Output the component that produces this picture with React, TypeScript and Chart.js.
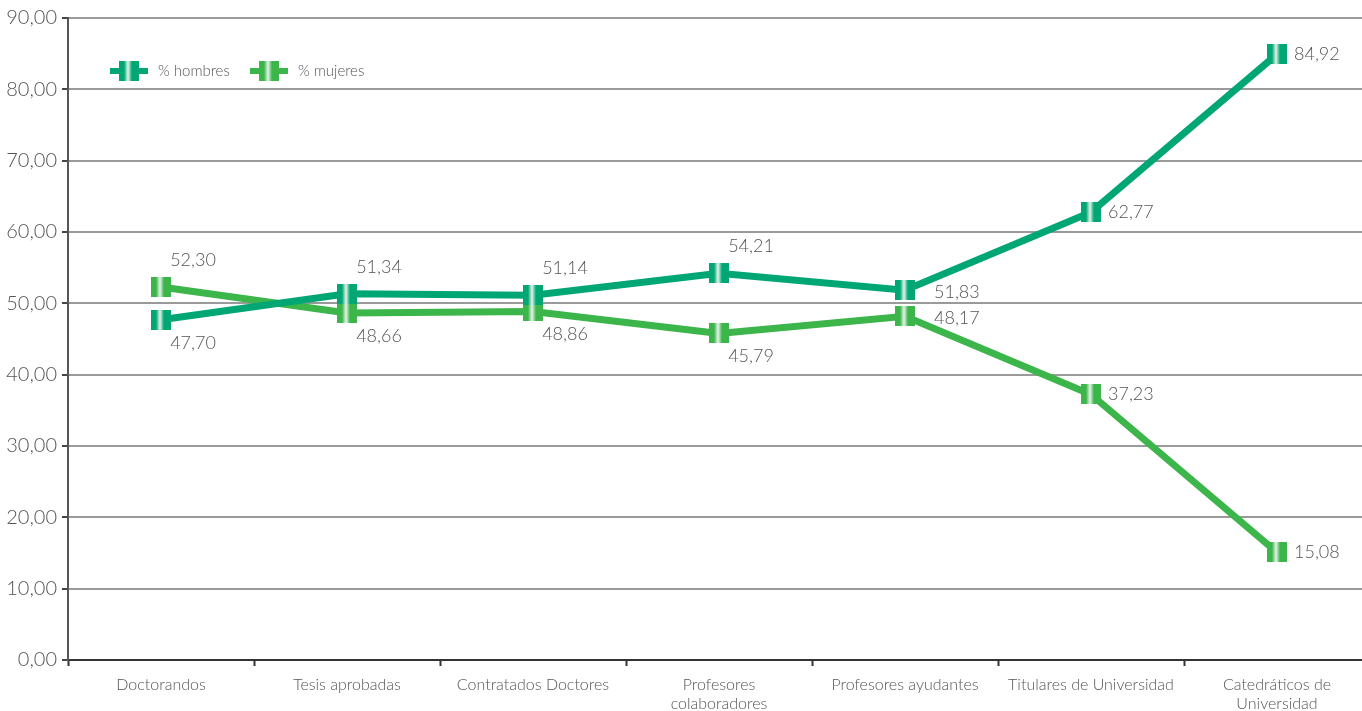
import React, { useEffect, useRef } from "react";
import { Chart, registerables } from "chart.js";

Chart.register(...registerables);

const categories: (string | string[])[] = [
  "Doctorandos",
  "Tesis aprobadas",
  "Contratados Doctores",
  ["Profesores", "colaboradores"],
  "Profesores ayudantes",
  "Titulares de Universidad",
  ["Catedráticos de", "Universidad"],
];
const hombres = [47.7, 51.34, 51.14, 54.21, 51.83, 62.77, 84.92];
const mujeres = [52.3, 48.66, 48.86, 45.79, 48.17, 37.23, 15.08];
const seriesNames = ["% hombres", "% mujeres"];
const hombresLabelPos = ["below", "above", "above", "above", "rightFar", "right", "right"];
const mujeresLabelPos = ["above", "below", "below", "below", "rightFar", "right", "right"];

const C_H = "#00a673";
const C_M = "#3cb54a";
const TEXT = "#555555";
const FONT = "Lato, 'Open Sans', sans-serif";

function fmt(v: number) {
  return v.toFixed(2).replace(".", ",");
}

function makeMarker(color: string, w = 20, h = 20) {
  const c = document.createElement("canvas");
  c.width = w;
  c.height = h;
  const ctx = c.getContext("2d")!;
  const g = ctx.createLinearGradient(0, 0, w, 0);
  g.addColorStop(0, color);
  g.addColorStop(0.25, color);
  g.addColorStop(0.45, "#e6f4ea");
  g.addColorStop(0.65, color);
  g.addColorStop(1, color);
  ctx.fillStyle = g;
  ctx.fillRect(0, 0, w, h);
  return c;
}

export default function App() {
  const ref = useRef<HTMLCanvasElement>(null);
  useEffect(() => {
    const mH = makeMarker(C_H);
    const mM = makeMarker(C_M);

    const labelsPlugin = {
      id: "customLabels",
      afterDatasetsDraw(chart: any) {
        const ctx = chart.ctx;
        ctx.save();
        ctx.font = `300 18px ${FONT}`;
        ctx.fillStyle = TEXT;
        ctx.textBaseline = "middle";
        const posArr = [hombresLabelPos, mujeresLabelPos];
        chart.data.datasets.forEach((ds: any, di: number) => {
          const meta = chart.getDatasetMeta(di);
          meta.data.forEach((pt: any, i: number) => {
            const txt = fmt(ds.data[i]);
            const p = posArr[di][i];
            let x = pt.x, y = pt.y;
            if (p === "above") { ctx.textAlign = "center"; x += 32; y -= 27; }
            else if (p === "below") { ctx.textAlign = "center"; x += 32; y += 23; }
            else if (p === "right") { ctx.textAlign = "left"; x += 17; }
            else if (p === "rightFar") { ctx.textAlign = "left"; x += 29; y += 2; }
            ctx.fillText(txt, x, y);
          });
        });
        // legend
        const ly = 71;
        const items = [
          { x: 110, color: C_H, m: mH, name: seriesNames[0] },
          { x: 250, color: C_M, m: mM, name: seriesNames[1] },
        ];
        ctx.font = `300 15px ${FONT}`;
        ctx.textAlign = "left";
        items.forEach((it) => {
          ctx.strokeStyle = it.color;
          ctx.lineWidth = 6;
          ctx.beginPath();
          ctx.moveTo(it.x, ly);
          ctx.lineTo(it.x + 38, ly);
          ctx.stroke();
          ctx.drawImage(it.m, it.x + 9, ly - 10);
          ctx.fillStyle = TEXT;
          ctx.fillText(it.name, it.x + 48, ly);
        });
        ctx.restore();
      },
    };

    const chart = new Chart(ref.current!, {
      type: "line",
      data: {
        labels: categories,
        datasets: [
          {
            label: seriesNames[0],
            data: hombres,
            borderColor: C_H,
            backgroundColor: C_H,
            borderWidth: 7,
            pointStyle: mH as any,
            tension: 0,
          },
          {
            label: seriesNames[1],
            data: mujeres,
            borderColor: C_M,
            backgroundColor: C_M,
            borderWidth: 7,
            pointStyle: mM as any,
            tension: 0,
          },
        ],
      },
      options: {
        responsive: false,
        animation: false,
        layout: { padding: { top: 18, left: 0, right: 0, bottom: 0 } },
        plugins: {
          legend: { display: false },
          tooltip: { enabled: false },
        },
        scales: {
          x: {
            offset: true,
            grid: {
              drawOnChartArea: false,
              drawTicks: true,
              tickLength: 6,
              tickColor: "#333",
              tickWidth: 2,
              offset: true,
            },
            border: { color: "#333", width: 2 },
            ticks: {
              color: TEXT,
              font: { family: FONT, size: 16, weight: 300 as any },
              padding: 9,
              maxRotation: 0,
              autoSkip: false,
            },
            afterFit: (s: any) => { s.height = 51; },
          },
          y: {
            min: 0,
            max: 90,
            ticks: {
              stepSize: 10,
              color: TEXT,
              font: { family: FONT, size: 20, weight: 300 as any },
              padding: 5,
              callback: (v: any) => fmt(Number(v)),
            },
            grid: {
              color: "#9a9a9a",
              lineWidth: 2,
              tickLength: 6,
              tickColor: "#444",
            },
            border: { color: "#555", width: 2 },
            afterFit: (s: any) => { s.width = 68; },
          },
        },
      },
      plugins: [labelsPlugin],
    });
    return () => chart.destroy();
  }, []);

  return (
    <div style={{ position: "fixed", left: 0, top: 0, width: 1362, height: 711, overflow: "hidden", background: "#fff" }}>
      <canvas ref={ref} width={1381} height={711} style={{ display: "block" }} />
    </div>
  );
}
